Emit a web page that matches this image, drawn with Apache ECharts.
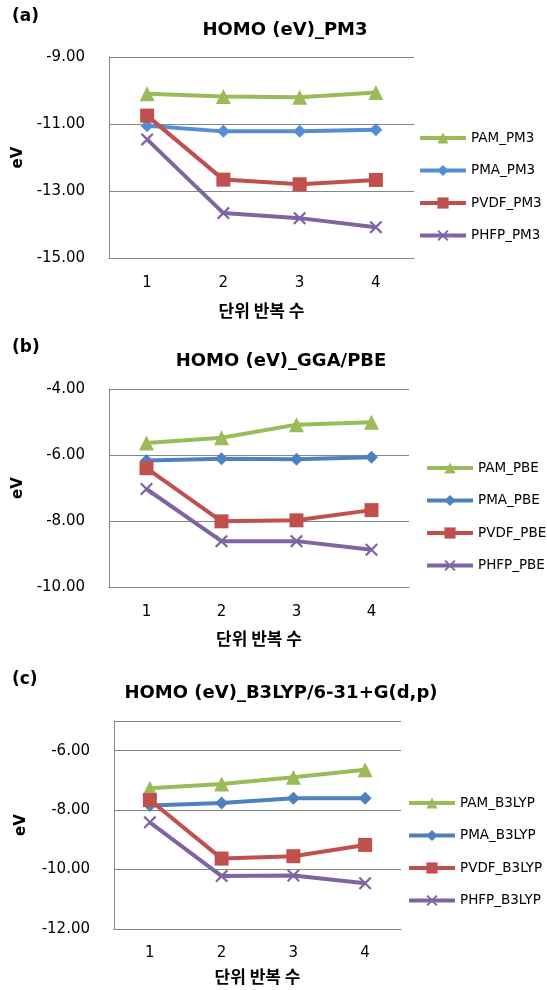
<!DOCTYPE html>
<html><head><meta charset="utf-8">
<script src="https://cdn.jsdelivr.net/npm/echarts@6/dist/echarts.min.js"></script>
<style>html,body{margin:0;padding:0;background:#fff;width:547px;height:990px;overflow:hidden}
.p{width:547px;height:330px}</style></head><body>
<div id="a" class="p"></div><div id="b" class="p"></div><div id="c" class="p"></div>
<script>
// ---- data ----
const categories = ['1', '2', '3', '4'];
const xAxisName = '단위 반복 수';
const yAxisName = 'eV';

const pm3Names = ['PAM_PM3', 'PMA_PM3', 'PVDF_PM3', 'PHFP_PM3'];
const pm3_PAM  = [-10.10, -10.18, -10.20, -10.06];
const pm3_PMA  = [-11.05, -11.22, -11.22, -11.17];
const pm3_PVDF = [-10.75, -12.66, -12.80, -12.67];
const pm3_PHFP = [-11.46, -13.66, -13.81, -14.08];

const pbeNames = ['PAM_PBE', 'PMA_PBE', 'PVDF_PBE', 'PHFP_PBE'];
const pbe_PAM  = [-5.64, -5.48, -5.08, -5.01];
const pbe_PMA  = [-6.17, -6.11, -6.13, -6.07];
const pbe_PVDF = [-6.40, -8.01, -7.98, -7.67];
const pbe_PHFP = [-7.03, -8.61, -8.61, -8.87];

const b3lypNames = ['PAM_B3LYP', 'PMA_B3LYP', 'PVDF_B3LYP', 'PHFP_B3LYP'];
const b3lyp_PAM  = [-7.26, -7.12, -6.89, -6.64];
const b3lyp_PMA  = [-7.84, -7.76, -7.60, -7.60];
const b3lyp_PVDF = [-7.66, -9.63, -9.55, -9.17];
const b3lyp_PHFP = [-8.41, -10.22, -10.20, -10.46];

const yTicksA = { min: -15, max: -9, interval: 2 };
const yTicksB = { min: -10, max: -4, interval: 2 };
const yTicksC = { min: -12, max: -5, interval: 2 };

// ---- styling ----
const XSYM = 'path://M0,1.2 L1.2,0 L5,3.8 L8.8,0 L10,1.2 L6.2,5 L10,8.8 L8.8,10 L5,6.2 L1.2,10 L0,8.8 L3.8,5 Z';
const LATIN = 'DejaVu Sans';
const GRAY = '#868686';

function makePanel(id, cfg) {
  const chart = echarts.init(document.getElementById(id), null, { renderer: 'canvas' });
  const symbols = ['triangle', 'diamond', 'rect', XSYM];
  const sizes = [15, 13, 14, 13];
  const series = cfg.names.map((n, i) => ({
    name: n, type: 'line', data: cfg.data[i],
    symbol: symbols[i], symbolSize: sizes[i], showAllSymbol: true,
    lineStyle: { width: 4, color: cfg.colors[i] },
    itemStyle: { color: cfg.colors[i], borderWidth: 0 },
    emphasis: { disabled: true }
  }));
  chart.setOption({
    animation: false,
    backgroundColor: '#fff',
    graphic: [
      { type: 'text', left: cfg.labX, top: cfg.labY,
        style: { text: cfg.label, font: 'bold 17px "DejaVu Sans"', fill: '#000' } },
      { type: 'text', x: cfg.titleX, y: cfg.titleY,
        style: { text: cfg.title, font: 'bold 18px "DejaVu Sans"', fill: '#000',
                 textAlign: 'center', textVerticalAlign: 'middle' } }
    ],
    grid: { left: cfg.grid[0], top: cfg.grid[1], right: cfg.grid[2], bottom: cfg.grid[3], containLabel: false },
    legend: {
      orient: 'vertical', left: cfg.legLeft, top: cfg.legTop, padding: 0,
      itemWidth: 46, itemHeight: 14, itemGap: 18.5,
      lineStyle: { width: 4 },
      textStyle: { fontSize: 13.5, fontFamily: LATIN, color: '#000', lineHeight: 14 },
      data: cfg.names
    },
    xAxis: {
      type: 'category', data: categories, boundaryGap: true,
      axisTick: { show: false },
      axisLine: { show: true, lineStyle: { color: GRAY, width: 1 } },
      axisLabel: { color: '#000', fontSize: 15, fontFamily: LATIN, margin: cfg.xLabMargin },
      name: xAxisName, nameLocation: 'middle', nameGap: cfg.xNameGap,
      nameTextStyle: { fontFamily: 'Noto Sans CJK KR', fontWeight: 'bold', fontSize: 17, color: '#000' }
    },
    yAxis: {
      type: 'value', min: cfg.ticks.min, max: cfg.ticks.max, interval: cfg.ticks.interval,
      axisTick: { show: false },
      axisLine: { show: true, lineStyle: { color: GRAY, width: 1 } },
      splitLine: { show: true, lineStyle: { color: GRAY, width: 1 } },
      axisLabel: { color: '#000', fontSize: 15, fontFamily: LATIN, margin: 24,
                   showMaxLabel: cfg.showMax, formatter: v => v.toFixed(2) },
      name: yAxisName, nameLocation: 'middle', nameGap: cfg.yNameGap, nameRotate: 90,
      nameTextStyle: { fontFamily: LATIN, fontWeight: 'bold', fontSize: 15, color: '#000' }
    },
    series
  });
}

makePanel('a', {
  label: '(a)', labX: 12, labY: 8, title: 'HOMO (eV)_PM3', titleX: 285, titleY: 30,
  names: pm3Names, data: [pm3_PAM, pm3_PMA, pm3_PVDF, pm3_PHFP],
  colors: ['#9BBB59', '#558ED5', '#C0504D', '#8064A2'],
  ticks: yTicksA, showMax: true,
  grid: [109, 57, 133, 72], legLeft: 418, legTop: 131,
  xLabMargin: 18, xNameGap: 44, yNameGap: 83
});
makePanel('b', {
  label: '(b)', labX: 12, labY: 9, title: 'HOMO (eV)_GGA/PBE', titleX: 281, titleY: 31,
  names: pbeNames, data: [pbe_PAM, pbe_PMA, pbe_PVDF, pbe_PHFP],
  colors: ['#9BBB59', '#4F81BD', '#C0504D', '#8064A2'],
  ticks: yTicksB, showMax: true,
  grid: [109, 59, 138, 73], legLeft: 425, legTop: 131,
  xLabMargin: 18, xNameGap: 43, yNameGap: 83
});
makePanel('c', {
  label: '(c)', labX: 12, labY: 11, title: 'HOMO (eV)_B3LYP/6-31+G(d,p)', titleX: 281, titleY: 33,
  names: b3lypNames, data: [b3lyp_PAM, b3lyp_PMA, b3lyp_PVDF, b3lyp_PHFP],
  colors: ['#9BBB59', '#4F81BD', '#C0504D', '#8064A2'],
  ticks: yTicksC, showMax: false,
  grid: [114, 61, 146, 60], legLeft: 407, legTop: 136,
  xLabMargin: 17, xNameGap: 39, yNameGap: 85
});
</script></body></html>
